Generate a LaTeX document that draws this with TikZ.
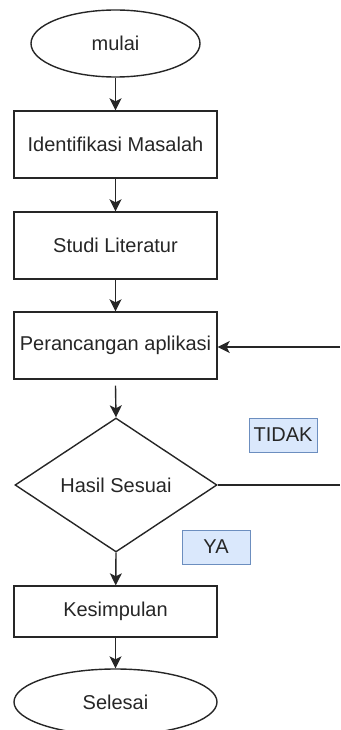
\documentclass[tikz,border=0pt]{standalone}
\usepackage{fontspec}
\setmainfont{Liberation Sans}
\usetikzlibrary{shapes.geometric,arrows.meta}
\definecolor{lblfill}{HTML}{DAE8FC}
\definecolor{lblborder}{HTML}{6C8EBF}
\begin{document}
\begin{tikzpicture}[x=1pt,y=-1pt,
  every node/.style={font=\fontsize{20}{24}\selectfont, text=black!85, inner sep=0pt},
  procbox/.style={draw=black!85, line width=1.4pt, rectangle, minimum width=203pt},
  termbox/.style={draw=black!85, line width=1.4pt, ellipse},
  decbox/.style={draw=black!85, line width=1.4pt, diamond, aspect=1.5, minimum width=202pt, minimum height=134pt},
  lbl/.style={draw=lblborder, fill=lblfill, line width=1pt, minimum width=68pt, minimum height=34pt},
  conn/.style={draw=black!85, line width=1.4pt, -{Stealth[length=12pt,width=12pt,inset=3pt]}},
  plain/.style={draw=black!85, line width=1.4pt}
]
\useasboundingbox (0,0) rectangle (340,730);
\node[termbox, minimum width=169pt, minimum height=67pt] (mulai) at (115.5,43.5) {mulai};
\node[procbox, minimum height=67pt] (ident) at (115.5,144.5) {Identifikasi Masalah};
\node[procbox, minimum height=67pt] (studi) at (115.5,245.5) {Studi Literatur};
\node[procbox, minimum height=67pt] (peran) at (115.5,345.5) {Perancangan aplikasi};
\node[decbox] (hasil) at (116,485) {Hasil Sesuai};
\node[procbox, minimum height=51pt] (kesim) at (115.5,611.5) {Kesimpulan};
\node[termbox, minimum width=203pt, minimum height=66pt] (selesai) at (115.5,702) {Selesai};
\node[lbl] (tidak) at (283,435) {TIDAK};
\node[lbl] (ya) at (216,547) {YA};
\coordinate (rin) at (340,347);
\coordinate (rout) at (340,485);
\draw[conn] (mulai) -- (ident);
\draw[conn] (ident) -- (studi);
\draw[conn] (studi) -- (peran);
\draw[conn] ([yshift=-6pt]peran.south) -- (hasil.north);
\draw[conn] (hasil.south) -- (kesim);
\draw[conn] (kesim) -- (selesai);
\draw[conn] (rin) -- (peran.east |- rin);
\draw[plain] (hasil.east) -- (rout);
\end{tikzpicture}
\end{document}
